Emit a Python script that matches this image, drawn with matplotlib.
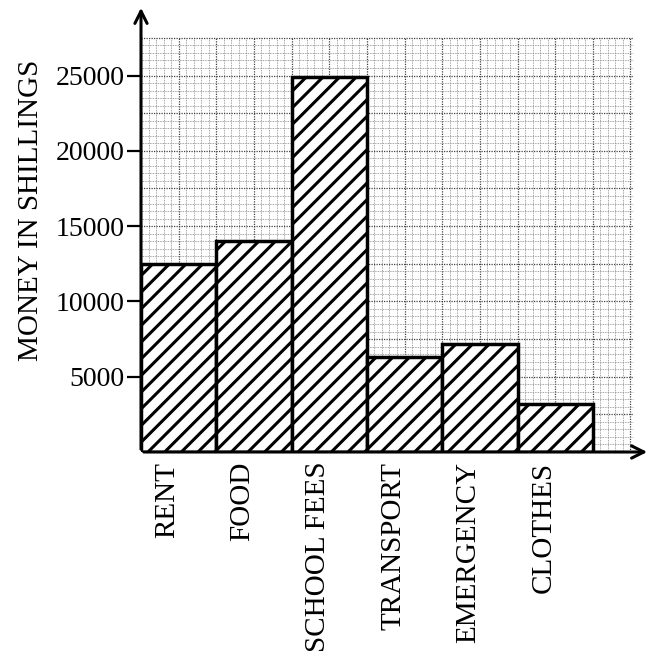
import numpy as np
import matplotlib.pyplot as plt

categories = ['RENT', 'FOOD', 'SCHOOL FEES', 'TRANSPORT', 'EMERGENCY', 'CLOTHES']
amounts = [12500, 14000, 24900, 6300, 7200, 3200]
y_ticks = [5000, 10000, 15000, 20000, 25000]

plt.rcParams['font.family'] = ['Liberation Serif', 'DejaVu Serif']
plt.rcParams['hatch.linewidth'] = 2.2

# 75.3 px per bar width and per 5000 shillings
px = 75.3
fig = plt.figure(figsize=(6.5, 6.53), dpi=100)
ax = fig.add_axes([141 / 650, 1 - 452 / 653, 509 / 650, 447 / 653])
ax.set_xlim(0, 509 / px)
ax.set_ylim(0, 447 / px * 5000)

# graph paper background
gx, gy = 6.53, 27500
for v in np.arange(0, gx + 0.001, 0.1):
    major = abs(v * 2 - round(v * 2)) < 1e-6
    ax.vlines(v, 0, gy, color='#444444' if major else '#888888',
              lw=0.9 if major else 0.6, ls=(0, (1, 1)), zorder=1)
for v in np.arange(0, gy + 1, 500):
    major = v % 2500 == 0
    ax.hlines(v, 0, gx, color='#444444' if major else '#888888',
              lw=0.9 if major else 0.6, ls=(0, (1, 1)), zorder=1)

x = np.arange(len(categories))
ax.bar(x, amounts, width=1, align='edge', facecolor='white', edgecolor='black',
       hatch='//', lw=2.5, zorder=3)

for s in ax.spines.values():
    s.set_visible(False)

# axes with arrows
ax.annotate('', xy=(1.0, 0), xytext=(0, 0), xycoords='axes fraction',
            arrowprops=dict(arrowstyle='->', lw=2.2, color='black',
                            mutation_scale=22), annotation_clip=False, zorder=5)
ax.annotate('', xy=(0, 1.0), xytext=(0, 0), xycoords='axes fraction',
            arrowprops=dict(arrowstyle='->', lw=2.2, color='black',
                            mutation_scale=22), annotation_clip=False, zorder=5)

ax.set_yticks(y_ticks)
ax.set_yticklabels([str(t) for t in y_ticks], fontsize=20)
ax.tick_params(axis='y', length=10, width=1.6, pad=2)

ax.set_xticks(x + 0.35)
ax.set_xticklabels(categories, rotation=90, fontsize=21, va='top')
ax.tick_params(axis='x', length=0, pad=7)

ax.set_ylabel('MONEY IN SHILLINGS', fontsize=21)
ax.yaxis.set_label_coords(-0.19, 0.54)

fig.savefig('out.png', dpi=100)
